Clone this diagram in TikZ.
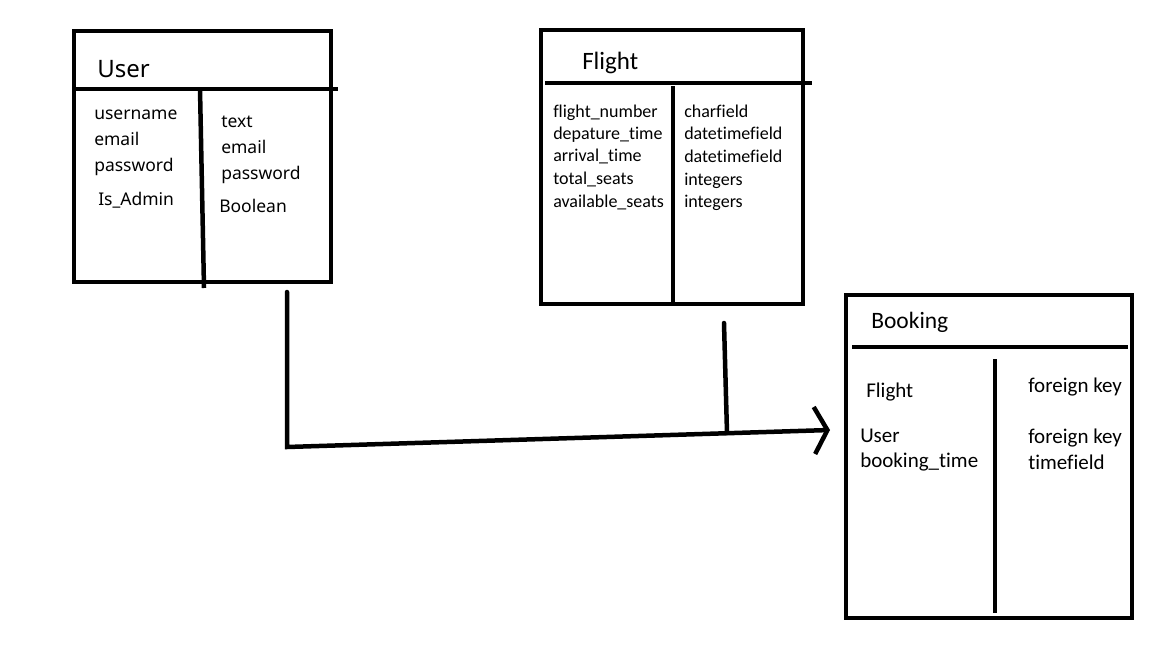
\documentclass[tikz,border=0pt]{standalone}
\usepackage{fontspec}
\setmainfont{Carlito}[Ligatures=NoCommon]
\newfontfamily\uifont{Noto Sans}
\usetikzlibrary{arrows.meta}

\begin{document}
\begin{tikzpicture}[x=1pt, y=-1pt, line width=4.5pt,
  table/.style={draw, rectangle, inner sep=0pt},
  title/.style={anchor=base west, inner sep=0pt},
  field/.style={anchor=base west, inner sep=0pt, font=\fontsize{18}{20}\selectfont},
  ufield/.style={field, font=\uifont\fontsize{17.5}{20}\selectfont},
  bfield/.style={field, font=\fontsize{21}{22}\selectfont}]
  \fill [white] (0,0) rectangle (1152,648);
  \useasboundingbox (0,0) rectangle (1152,648);

  % User
  \node [table, minimum width=257pt, minimum height=251pt] (user) at (202.5,156.5) {};
  \draw (76,89) -- (338,89);
  \draw (200,89) -- (204,288);
  \node [title, font=\uifont\fontsize{24}{24}\selectfont] (usertitle) at (95,77) {User};
  \node [ufield] (u1) at (92,119) {username};
  \node [ufield] (u2) at (92,145) {email};
  \node [ufield] (u3) at (92,171) {password};
  \node [ufield] (u4) at (96,205) {Is\_Admin};
  \node [ufield] (ut1) at (219,127) {text};
  \node [ufield] (ut2) at (219,153) {email};
  \node [ufield] (ut3) at (219,179) {password};
  \node [ufield] (ut4) at (217,212) {Boolean};

  % Flight
  \node [table, minimum width=262pt, minimum height=274pt] (flight) at (672,167) {};
  \draw (545,83) -- (812,83);
  \draw (673,86) -- (673,303);
  \node [title, font=\fontsize{25}{25}\selectfont] (flighttitle) at (580,69) {Flight};
  \node [field] (f1) at (551,117) {flight\_number};
  \node [field] (f2) at (551,139) {depature\_time};
  \node [field] (f3) at (551,161) {arrival\_time};
  \node [field] (f4) at (551,184) {total\_seats};
  \node [field] (f5) at (551,207) {available\_seats};
  \node [field] (ft1) at (682,117) {charfield};
  \node [field] (ft2) at (682,139) {datetimefield};
  \node [field] (ft3) at (682,162) {datetimefield};
  \node [field] (ft4) at (682,185) {integers};
  \node [field] (ft5) at (682,207) {integers};

  % Booking
  \node [table, minimum width=286pt, minimum height=323pt] (booking) at (989,456.5) {};
  \draw (852,347) -- (1128,347);
  \draw (995,359) -- (995,613);
  \node [title, font=\fontsize{23.5}{24}\selectfont] (bookingtitle) at (869,328) {Booking};
  \node [bfield] (b1) at (864,397) {Flight};
  \node [bfield] (b2) at (858,442) {User};
  \node [bfield] (b3) at (858,467) {booking\_time};
  \node [bfield] (bt1) at (1026,392) {foreign key};
  \node [bfield] (bt2) at (1026,443) {foreign key};
  \node [bfield] (bt3) at (1026,469) {timefield};

  \coordinate (ustub) at (287,292);
  \coordinate (ucorner) at (287,447);
  \coordinate (fstub) at (724,323);
  \coordinate (fjoin) at (727,433);
  \coordinate (tip) at (830,430);
  \draw [line cap=round, -{Straight Barb[length=13pt, width=47pt]}] (ustub) -- (ucorner) -- (tip);
  \draw [line cap=round] (fstub) -- (fjoin);
\end{tikzpicture}
\end{document}
